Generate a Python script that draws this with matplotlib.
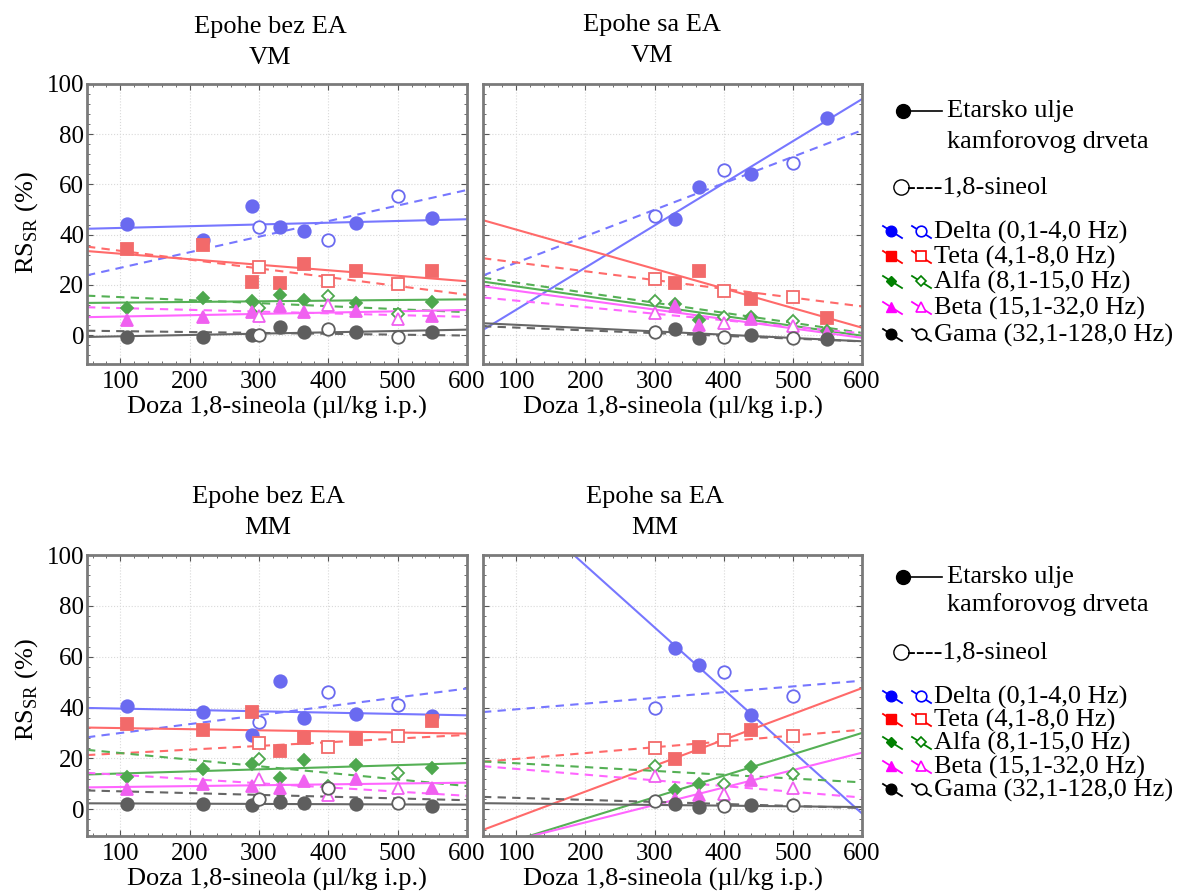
import numpy as np
import matplotlib
matplotlib.use("Agg")
import matplotlib.pyplot as plt
from matplotlib.ticker import MultipleLocator
from matplotlib.lines import Line2D

plt.rcParams["font.family"] = ["Liberation Serif", "DejaVu Serif"]
plt.rcParams["mathtext.fontset"] = "custom"
plt.rcParams["mathtext.rm"] = "Liberation Serif"

# --- data ---
bands = ["Delta", "Teta", "Alfa", "Beta", "Gama"]
band_labels = ["Delta (0,1-4,0 Hz)", "Teta (4,1-8,0 Hz)", "Alfa (8,1-15,0 Hz)",
               "Beta (15,1-32,0 Hz)", "Gama (32,1-128,0 Hz)"]

doses_bez = [110, 220, 290, 330, 365, 440, 550]
doses_sineol = [300, 400, 500]
doses_sa_vm = [330, 365, 440, 550]
doses_sa_mm = [330, 365, 440]

# VM, epohe bez EA
vm_bez_ulje = {
    "Delta": [44.4, 38.0, 51.6, 42.9, 41.6, 44.7, 46.7],
    "Teta": [34.2, 36.0, 21.1, 20.7, 28.3, 25.7, 25.7],
    "Alfa": [10.7, 14.7, 13.6, 16.0, 14.0, 12.7, 13.1],
    "Beta": [6.0, 7.1, 9.1, 11.6, 9.1, 9.6, 7.7],
    "Gama": [-0.7, -0.7, 0.0, 3.1, 1.1, 1.3, 1.1],
}
vm_bez_sineol = {
    "Delta": [42.9, 38.0, 55.3],
    "Teta": [27.3, 21.6, 20.3],
    "Alfa": [10.7, 15.6, 8.3],
    "Beta": [7.7, 12.0, 6.3],
    "Gama": [0.0, 2.3, -0.7],
}
# VM, epohe sa EA
vm_sa_ulje = {
    "Delta": [46.3, 59.1, 64.3, 86.3],
    "Teta": [20.9, 25.7, 14.4, 6.7],
    "Alfa": [12.4, 6.0, 7.1, 1.7],
    "Beta": [11.5, 4.0, 6.3, 0.7],
    "Gama": [2.3, -1.0, 0.0, -1.7],
}
vm_sa_sineol = {
    "Delta": [47.3, 65.7, 68.4],
    "Teta": [22.3, 17.7, 15.3],
    "Alfa": [13.7, 7.3, 5.7],
    "Beta": [9.0, 5.0, 3.8],
    "Gama": [1.1, -0.9, -1.1],
}
# MM, epohe bez EA
mm_bez_ulje = {
    "Delta": [40.5, 38.3, 29.2, 50.6, 35.9, 37.6, 36.6],
    "Teta": [33.6, 31.1, 38.3, 23.1, 28.1, 27.8, 34.6],
    "Alfa": [12.8, 15.7, 17.9, 12.2, 19.2, 17.6, 16.3],
    "Beta": [7.8, 10.0, 9.2, 8.5, 11.1, 11.8, 8.5],
    "Gama": [2.0, 2.0, 1.7, 3.0, 2.6, 2.0, 1.3],
}
mm_bez_sineol = {
    "Delta": [34.2, 46.1, 41.2],
    "Teta": [25.9, 24.4, 28.8],
    "Alfa": [19.6, 9.0, 14.4],
    "Beta": [11.8, 5.5, 8.5],
    "Gama": [3.9, 8.5, 2.5],
}
# MM, epohe sa EA
mm_sa_ulje = {
    "Delta": [63.4, 56.9, 37.0],
    "Teta": [19.6, 24.6, 31.1],
    "Alfa": [7.6, 9.8, 16.7],
    "Beta": [4.2, 5.5, 11.5],
    "Gama": [2.0, 1.0, 1.5],
}
mm_sa_sineol = {
    "Delta": [39.9, 53.9, 44.4],
    "Teta": [24.2, 27.1, 28.8],
    "Alfa": [17.0, 9.8, 14.0],
    "Beta": [13.0, 5.9, 8.5],
    "Gama": [3.3, 1.3, 1.7],
}

# --- style ---
pt_colors = {"Delta": "#6a6af0", "Teta": "#f26a6a", "Alfa": "#4ea84e",
             "Beta": "#f060f0", "Gama": "#5e5e5e"}
ln_colors = {"Delta": "#7777ff", "Teta": "#ff6a6a", "Alfa": "#55b055",
             "Beta": "#ff66ff", "Gama": "#666666"}
leg_colors = {"Delta": "#0000ff", "Teta": "#ff0000", "Alfa": "#008000",
              "Beta": "#ff00ff", "Gama": "#000000"}
markers = {"Delta": "o", "Teta": "s", "Alfa": "D", "Beta": "^", "Gama": "o"}
msizes = {"Delta": 9, "Teta": 8.5, "Alfa": 6.5, "Beta": 8.5, "Gama": 9}

W, H = 1178, 896
fig = plt.figure(figsize=(W / 100, H / 100), dpi=100)


def px_rect(l, t, r, b):
    return [l / W, 1 - b / H, (r - l) / W, (b - t) / H]


def draw_panel(rect, d_ulje, x_ulje, d_sin, x_sin, ylow, ylabels):
    ax = fig.add_axes(px_rect(*rect))
    ax.set_xlim(52, 600)
    ax.set_ylim(ylow, 100)
    xs = np.array(ax.get_xlim())
    for b in bands:
        for d, x, ls, filled in ((d_ulje, x_ulje, "-", True), (d_sin, x_sin, (0, (4, 3)), False)):
            fit = np.polyfit(x, d[b], 1)
            ax.plot(xs, np.polyval(fit, xs), color=ln_colors[b], lw=1.5, ls=ls, zorder=2)
            ax.plot(x, d[b], ls="none", marker=markers[b], ms=msizes[b],
                    mfc=pt_colors[b] if filled else "white", mec=pt_colors[b],
                    mew=1.3, zorder=3)
    ax.xaxis.set_major_locator(MultipleLocator(100))
    ax.xaxis.set_minor_locator(MultipleLocator(20))
    ax.yaxis.set_major_locator(MultipleLocator(20))
    ax.yaxis.set_minor_locator(MultipleLocator(4))
    ax.grid(True, which="major", color="#d9d9d9", lw=0.8, ls=":")
    ax.tick_params(which="both", direction="in", top=True, right=True, colors="#555555",
                   labelcolor="black")
    ax.tick_params(which="major", length=4)
    ax.tick_params(which="minor", length=2.5)
    ax.tick_params(axis="x", labelsize=18, pad=5)
    ax.tick_params(axis="y", labelsize=18, pad=2, labelleft=ylabels)
    for s in ax.spines.values():
        s.set_color("#7a7a7a")
        s.set_linewidth(2)
    ax.set_xlabel("Doza 1,8-sineola (\u00b5l/kg i.p.)", fontsize=19, labelpad=2)
    return ax


draw_panel((87, 84, 467, 364), vm_bez_ulje, doses_bez, vm_bez_sineol, doses_sineol, -11.5, True)
draw_panel((483, 84, 862, 364), vm_sa_ulje, doses_sa_vm, vm_sa_sineol, doses_sineol, -11.5, False)
draw_panel((87, 555, 467, 836), mm_bez_ulje, doses_bez, mm_bez_sineol, doses_sineol, -10.5, True)
draw_panel((483, 555, 862, 836), mm_sa_ulje, doses_sa_mm, mm_sa_sineol, doses_sineol, -10.5, False)

# titles and y labels (pixel positions)
ov = fig.add_axes([0, 0, 1, 1], zorder=-1)
ov.set_xlim(0, W)
ov.set_ylim(H, 0)
ov.axis("off")
lg = fig.add_axes([0, 0, 1, 1], zorder=5)
lg.set_xlim(0, W)
lg.set_ylim(H, 0)
lg.axis("off")

for x, y, top, bot in ((270, 27, "Epohe bez EA", "VM"), (652, 25, "Epohe sa EA", "VM"),
                       (268, 497, "Epohe bez EA", "MM"), (655, 497, "Epohe sa EA", "MM")):
    lg.text(x, y, top, ha="center", va="center", fontsize=19)
    lg.text(x, y + 31, bot, ha="center", va="center", fontsize=19)

for y in (223, 690):
    lg.text(27, y, r"RS$_{\mathrm{SR}}$ (%)", rotation=90, ha="center", va="center", fontsize=19)


def draw_legend(y_eo, y_eo2, y_sin, rows):
    lg.plot([903, 942], [y_eo, y_eo], color="black", lw=1.2)
    lg.plot([903], [y_eo], marker="o", ms=10, color="black")
    lg.text(947, y_eo, "Etarsko ulje", va="center", fontsize=19)
    lg.text(947, y_eo2, "kamforovog drveta", va="center", fontsize=19)
    lg.plot([901], [y_sin], marker="o", ms=11, mfc="white", mec="black", mew=1)
    lg.text(907, y_sin, "----1,8-sineol", va="center", fontsize=19)
    for b, lab, y in zip(bands, band_labels, rows):
        c = leg_colors[b]
        lg.plot([883, 902], [y - 6, y + 6], color=c, lw=1.3)
        lg.plot([891], [y - 1], marker=markers[b], ms=msizes[b] * 0.85, color=c)
        lg.plot([912, 931], [y - 6, y + 6], color=c, lw=1.3)
        lg.plot([921], [y - 1], marker=markers[b], ms=msizes[b] * 0.85, mfc="white", mec=c, mew=1.2)
        lg.text(934, y, lab, va="center", fontsize=19)


draw_legend(111, 142, 187, [232, 257, 282, 308, 335])
draw_legend(577, 605, 652, [697, 720, 743, 767, 790])

fig.savefig("out.png", dpi=100)
